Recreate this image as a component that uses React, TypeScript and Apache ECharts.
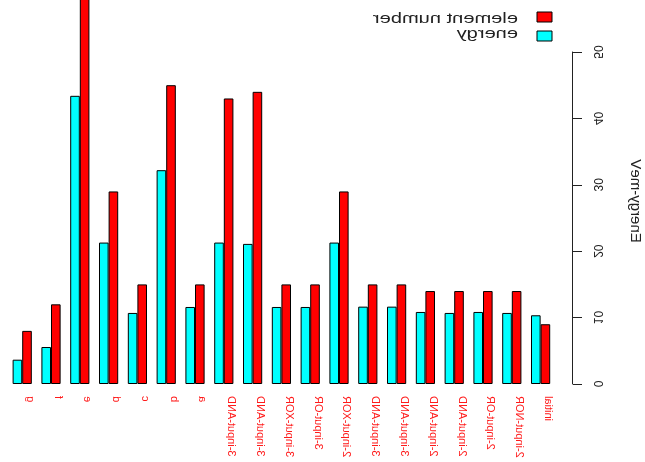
import React, { useEffect, useRef } from "react";
import * as echarts from "echarts";

// Data (original, un-mirrored order: left to right)
const categories = [
  "initial", "2-input-NOR", "2-input-OR", "2-input-AND", "2-input-AND",
  "3-input-AND", "3-input-AND", "2-input-XOR", "3-input-OR", "3-input-XOR",
  "3-input-AND", "3-input-AND", "a", "b", "c", "d", "e", "f", "g",
];
const elementNumber = [9, 14, 14, 14, 14, 15, 15, 29, 15, 15, 44, 43, 15, 45, 15, 29, 62, 12, 8];
const energy = [10.35, 10.7, 10.85, 10.7, 10.85, 11.65, 11.65, 21.3, 11.6, 11.6, 21.1, 21.3, 11.6, 32.2, 10.7, 21.3, 43.4, 5.57, 3.66];
const seriesNames = ["element number", "energy"];
const seriesColors = ["#ff0000", "#00ffff"];
const yTitle = "Energy-meV";

const FONT = "'Liberation Sans', Arial, Helvetica, sans-serif";

export default function App() {
  const ref = useRef<HTMLDivElement>(null);
  useEffect(() => {
    if (!ref.current) return;
    const chart = echarts.init(ref.current, undefined, { renderer: "svg" });
    chart.setOption({
      animation: false,
      backgroundColor: "#ffffff",
      textStyle: { fontFamily: FONT },
      grid: { left: 90, top: 52, width: 547.2, height: 332, containLabel: false },
      xAxis: {
        type: "category",
        data: categories,
        axisLine: { show: false },
        axisTick: { show: false },
        axisLabel: {
          interval: 0,
          rotate: 90,
          color: "#ff1a1a",
          fontSize: 11,
          lineHeight: 17,
          margin: 12,
          verticalAlign: "bottom",
          fontFamily: FONT,
        },
      },
      yAxis: {
        type: "value",
        min: 0,
        max: 50,
        interval: 10,
        offset: 18,
        splitLine: { show: false },
        axisLine: { show: true, lineStyle: { color: "#222", width: 1 } },
        axisTick: { show: true, length: 9, lineStyle: { color: "#222", width: 1 } },
        axisLabel: { rotate: 90, margin: 19, fontSize: 12, color: "#222", fontFamily: FONT },
      },
      series: [
        {
          name: seriesNames[0],
          type: "bar",
          data: elementNumber,
          clip: false,
          barGap: "0%",
          barCategoryGap: "33.333%",
          itemStyle: { color: seriesColors[0], borderColor: "#000", borderWidth: 1 },
        },
        {
          name: seriesNames[1],
          type: "bar",
          data: energy,
          clip: false,
          barGap: "0%",
          barCategoryGap: "33.333%",
          itemStyle: { color: seriesColors[1], borderColor: "#000", borderWidth: 1 },
        },
      ],
      graphic: [
        {
          type: "text",
          x: 8,
          y: 201,
          rotation: Math.PI / 2,
          style: {
            text: yTitle,
            fontSize: 15,
            fontFamily: FONT,
            fill: "#222",
            textAlign: "center",
            textVerticalAlign: "middle",
          },
        },
        {
          type: "rect",
          shape: { x: 93, y: 12, width: 15, height: 10 },
          style: { fill: seriesColors[0], stroke: "#000", lineWidth: 1 },
        },
        {
          type: "rect",
          shape: { x: 93, y: 31, width: 15, height: 10 },
          style: { fill: seriesColors[1], stroke: "#000", lineWidth: 1 },
        },
        {
          type: "text",
          x: 127,
          y: 17.5,
          scaleX: 1.34,
          style: {
            text: seriesNames[0],
            fontSize: 15,
            fontFamily: FONT,
            fill: "#222",
            textAlign: "left",
            textVerticalAlign: "middle",
          },
        },
        {
          type: "text",
          x: 127,
          y: 33,
          scaleX: 1.34,
          style: {
            text: seriesNames[1],
            fontSize: 15,
            fontFamily: FONT,
            fill: "#222",
            textAlign: "left",
            textVerticalAlign: "middle",
          },
        },
      ],
    });
    return () => chart.dispose();
  }, []);
  return (
    <div
      ref={ref}
      style={{
        position: "fixed",
        left: 0,
        top: 0,
        width: 645,
        height: 462,
        transform: "scaleX(-1)",
      }}
    />
  );
}
